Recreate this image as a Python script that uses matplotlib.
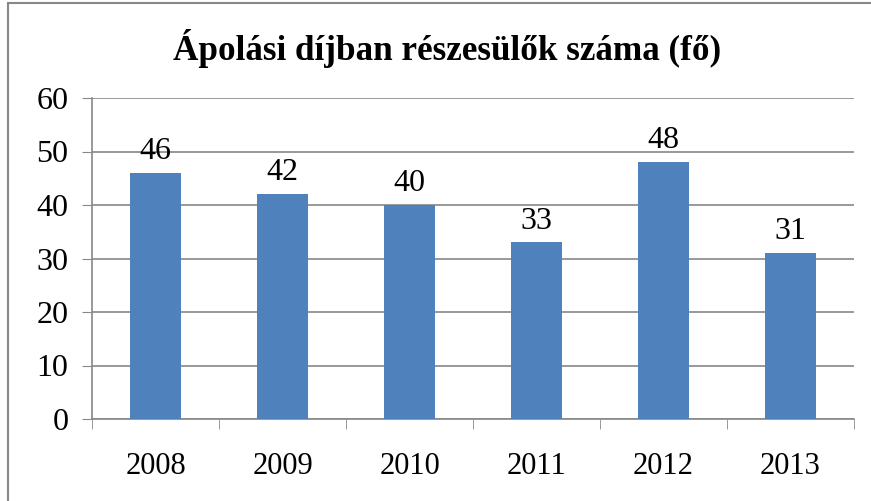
import matplotlib.pyplot as plt
from matplotlib.patches import Rectangle

years = ['2008', '2009', '2010', '2011', '2012', '2013']
values = [46, 42, 40, 33, 48, 31]
title = 'Ápolási díjban részesülők száma (fő)'

plt.rcParams['font.family'] = ['Liberation Serif', 'DejaVu Serif']

fig = plt.figure(figsize=(8.71, 5.01), dpi=100)
ax = fig.add_axes([92 / 871, 1 - 419 / 501, 762 / 871, 321 / 501])

x = list(range(len(years)))
bars = ax.bar(x, values, width=0.4, color='#4F81BD', zorder=3)
for b, v in zip(bars, values):
    ax.annotate(str(v), (b.get_x() + b.get_width() / 2, v), xytext=(0, 5),
                textcoords='offset points', ha='center', va='bottom', fontsize=23)

ax.set_xlim(-0.5, len(years) - 0.5)
ax.set_ylim(0, 60)
ax.set_yticks(range(0, 61, 10))
ax.set_xticks(x)
ax.set_xticklabels(years)
ax.set_xticks([i - 0.5 for i in range(len(years) + 1)], minor=True)
ax.tick_params(axis='x', which='major', length=0, pad=24, labelsize=22)
ax.tick_params(axis='x', which='minor', length=7, color='#888888', direction='out')
ax.tick_params(axis='y', length=7, color='#888888', labelsize=23, pad=10)
ax.grid(axis='y', color='#888888', linewidth=1.2, zorder=0)
for s in ['top', 'right']:
    ax.spines[s].set_visible(False)
for s in ['left', 'bottom']:
    ax.spines[s].set_color('#888888')
    ax.spines[s].set_linewidth(1.2)

fig.text(447 / 871, 1 - 48 / 501, title, ha='center', va='center',
         fontsize=25.3, fontweight='bold')

fig.patches.append(Rectangle((8 / 871, -0.1), 1.2, 1 - 3 / 501 + 0.1,
                             transform=fig.transFigure, fill=False,
                             edgecolor='#888888', linewidth=1.5))

fig.savefig('out.png', dpi=100)
